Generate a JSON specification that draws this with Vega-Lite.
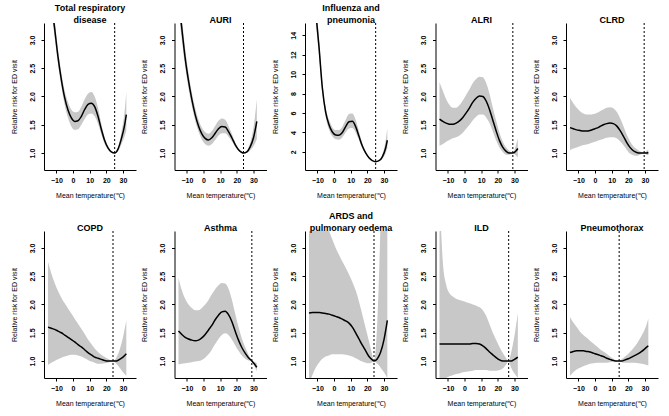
{
  "$schema": "https://vega.github.io/schema/vega-lite/v6.json",
  "padding": {"left": 10, "top": 3, "right": 5, "bottom": 5},
  "background": "white",
  "datasets": {
    "mmt": [
      {"panel": "total", "mmt": 25},
      {"panel": "auri", "mmt": 24},
      {"panel": "flu", "mmt": 25},
      {"panel": "alri", "mmt": 29},
      {"panel": "clrd", "mmt": 29.5},
      {"panel": "copd", "mmt": 24},
      {"panel": "asthma", "mmt": 29},
      {"panel": "ards", "mmt": 24},
      {"panel": "ild", "mmt": 26.5},
      {"panel": "ptx", "mmt": 14.5}
    ],
    "curves": [
      {"panel":"total","temp":-15,"rr":4.3,"lower":4.05,"upper":4.55},
      {"panel":"total","temp":-13,"rr":3.7,"lower":3.52,"upper":3.88},
      {"panel":"total","temp":-11,"rr":3.2,"lower":3.05,"upper":3.35},
      {"panel":"total","temp":-9,"rr":2.7,"lower":2.57,"upper":2.83},
      {"panel":"total","temp":-7,"rr":2.3,"lower":2.18,"upper":2.42},
      {"panel":"total","temp":-5,"rr":1.98,"lower":1.85,"upper":2.1},
      {"panel":"total","temp":-3,"rr":1.76,"lower":1.62,"upper":1.9},
      {"panel":"total","temp":-1,"rr":1.62,"lower":1.47,"upper":1.77},
      {"panel":"total","temp":1,"rr":1.56,"lower":1.41,"upper":1.72},
      {"panel":"total","temp":3,"rr":1.57,"lower":1.42,"upper":1.73},
      {"panel":"total","temp":5,"rr":1.65,"lower":1.5,"upper":1.82},
      {"panel":"total","temp":7,"rr":1.77,"lower":1.6,"upper":1.95},
      {"panel":"total","temp":9,"rr":1.86,"lower":1.68,"upper":2.05},
      {"panel":"total","temp":11,"rr":1.88,"lower":1.7,"upper":2.08},
      {"panel":"total","temp":13,"rr":1.82,"lower":1.65,"upper":2.0},
      {"panel":"total","temp":15,"rr":1.65,"lower":1.52,"upper":1.8},
      {"panel":"total","temp":17,"rr":1.42,"lower":1.33,"upper":1.52},
      {"panel":"total","temp":19,"rr":1.22,"lower":1.16,"upper":1.28},
      {"panel":"total","temp":21,"rr":1.09,"lower":1.06,"upper":1.12},
      {"panel":"total","temp":23,"rr":1.02,"lower":1.01,"upper":1.03},
      {"panel":"total","temp":25,"rr":1.0,"lower":1.0,"upper":1.0},
      {"panel":"total","temp":27,"rr":1.07,"lower":1.03,"upper":1.1},
      {"panel":"total","temp":29,"rr":1.25,"lower":1.15,"upper":1.36},
      {"panel":"total","temp":31,"rr":1.5,"lower":1.3,"upper":1.75},
      {"panel":"total","temp":32,"rr":1.68,"lower":1.4,"upper":2.08},

      {"panel":"auri","temp":-15,"rr":3.75,"lower":3.5,"upper":4.0},
      {"panel":"auri","temp":-13,"rr":3.2,"lower":3.0,"upper":3.4},
      {"panel":"auri","temp":-11,"rr":2.68,"lower":2.52,"upper":2.85},
      {"panel":"auri","temp":-9,"rr":2.28,"lower":2.14,"upper":2.42},
      {"panel":"auri","temp":-7,"rr":1.95,"lower":1.83,"upper":2.07},
      {"panel":"auri","temp":-5,"rr":1.68,"lower":1.57,"upper":1.8},
      {"panel":"auri","temp":-3,"rr":1.48,"lower":1.38,"upper":1.59},
      {"panel":"auri","temp":-1,"rr":1.34,"lower":1.24,"upper":1.45},
      {"panel":"auri","temp":1,"rr":1.26,"lower":1.16,"upper":1.37},
      {"panel":"auri","temp":3,"rr":1.23,"lower":1.13,"upper":1.34},
      {"panel":"auri","temp":5,"rr":1.27,"lower":1.16,"upper":1.39},
      {"panel":"auri","temp":7,"rr":1.35,"lower":1.23,"upper":1.48},
      {"panel":"auri","temp":9,"rr":1.43,"lower":1.31,"upper":1.57},
      {"panel":"auri","temp":11,"rr":1.47,"lower":1.35,"upper":1.61},
      {"panel":"auri","temp":13,"rr":1.46,"lower":1.35,"upper":1.59},
      {"panel":"auri","temp":15,"rr":1.38,"lower":1.29,"upper":1.48},
      {"panel":"auri","temp":17,"rr":1.27,"lower":1.21,"upper":1.34},
      {"panel":"auri","temp":19,"rr":1.15,"lower":1.11,"upper":1.19},
      {"panel":"auri","temp":21,"rr":1.06,"lower":1.04,"upper":1.08},
      {"panel":"auri","temp":23,"rr":1.01,"lower":1.0,"upper":1.02},
      {"panel":"auri","temp":24,"rr":1.0,"lower":1.0,"upper":1.0},
      {"panel":"auri","temp":26,"rr":1.02,"lower":1.0,"upper":1.04},
      {"panel":"auri","temp":28,"rr":1.11,"lower":1.05,"upper":1.18},
      {"panel":"auri","temp":30,"rr":1.27,"lower":1.12,"upper":1.45},
      {"panel":"auri","temp":32,"rr":1.56,"lower":1.25,"upper":1.95},

      {"panel":"flu","temp":-15,"rr":24,"lower":22,"upper":26},
      {"panel":"flu","temp":-13,"rr":20,"lower":18.5,"upper":21.5},
      {"panel":"flu","temp":-11,"rr":16.5,"lower":15.4,"upper":17.6},
      {"panel":"flu","temp":-9,"rr":12.8,"lower":12.0,"upper":13.6},
      {"panel":"flu","temp":-7,"rr":8.6,"lower":8.0,"upper":9.2},
      {"panel":"flu","temp":-5,"rr":6.1,"lower":5.6,"upper":6.6},
      {"panel":"flu","temp":-3,"rr":4.8,"lower":4.3,"upper":5.3},
      {"panel":"flu","temp":-1,"rr":4.05,"lower":3.6,"upper":4.55},
      {"panel":"flu","temp":1,"rr":3.75,"lower":3.3,"upper":4.25},
      {"panel":"flu","temp":3,"rr":3.72,"lower":3.25,"upper":4.25},
      {"panel":"flu","temp":5,"rr":4.0,"lower":3.5,"upper":4.6},
      {"panel":"flu","temp":7,"rr":4.6,"lower":4.0,"upper":5.3},
      {"panel":"flu","temp":9,"rr":5.1,"lower":4.4,"upper":5.9},
      {"panel":"flu","temp":11,"rr":5.15,"lower":4.45,"upper":5.95},
      {"panel":"flu","temp":13,"rr":4.6,"lower":4.0,"upper":5.3},
      {"panel":"flu","temp":15,"rr":3.6,"lower":3.2,"upper":4.1},
      {"panel":"flu","temp":17,"rr":2.6,"lower":2.35,"upper":2.9},
      {"panel":"flu","temp":19,"rr":1.9,"lower":1.75,"upper":2.05},
      {"panel":"flu","temp":21,"rr":1.4,"lower":1.33,"upper":1.48},
      {"panel":"flu","temp":23,"rr":1.1,"lower":1.07,"upper":1.13},
      {"panel":"flu","temp":25,"rr":1.0,"lower":1.0,"upper":1.0},
      {"panel":"flu","temp":27,"rr":1.1,"lower":1.05,"upper":1.15},
      {"panel":"flu","temp":29,"rr":1.5,"lower":1.3,"upper":1.7},
      {"panel":"flu","temp":31,"rr":2.4,"lower":1.9,"upper":3.2},
      {"panel":"flu","temp":32,"rr":3.2,"lower":2.4,"upper":4.4},

      {"panel":"alri","temp":-15,"rr":1.6,"lower":1.13,"upper":2.25},
      {"panel":"alri","temp":-13,"rr":1.56,"lower":1.16,"upper":2.1},
      {"panel":"alri","temp":-11,"rr":1.53,"lower":1.2,"upper":1.95},
      {"panel":"alri","temp":-9,"rr":1.51,"lower":1.23,"upper":1.85},
      {"panel":"alri","temp":-7,"rr":1.51,"lower":1.26,"upper":1.8},
      {"panel":"alri","temp":-5,"rr":1.53,"lower":1.28,"upper":1.8},
      {"panel":"alri","temp":-3,"rr":1.57,"lower":1.31,"upper":1.85},
      {"panel":"alri","temp":-1,"rr":1.63,"lower":1.36,"upper":1.93},
      {"panel":"alri","temp":1,"rr":1.71,"lower":1.43,"upper":2.03},
      {"panel":"alri","temp":3,"rr":1.8,"lower":1.5,"upper":2.13},
      {"panel":"alri","temp":5,"rr":1.9,"lower":1.58,"upper":2.24},
      {"panel":"alri","temp":7,"rr":1.97,"lower":1.64,"upper":2.31},
      {"panel":"alri","temp":9,"rr":2.01,"lower":1.68,"upper":2.35},
      {"panel":"alri","temp":11,"rr":2.0,"lower":1.68,"upper":2.34},
      {"panel":"alri","temp":13,"rr":1.92,"lower":1.63,"upper":2.24},
      {"panel":"alri","temp":15,"rr":1.77,"lower":1.53,"upper":2.05},
      {"panel":"alri","temp":17,"rr":1.58,"lower":1.38,"upper":1.8},
      {"panel":"alri","temp":19,"rr":1.39,"lower":1.22,"upper":1.57},
      {"panel":"alri","temp":21,"rr":1.22,"lower":1.1,"upper":1.36},
      {"panel":"alri","temp":23,"rr":1.1,"lower":1.02,"upper":1.2},
      {"panel":"alri","temp":25,"rr":1.03,"lower":0.97,"upper":1.1},
      {"panel":"alri","temp":27,"rr":1.0,"lower":0.97,"upper":1.04},
      {"panel":"alri","temp":29,"rr":1.0,"lower":1.0,"upper":1.0},
      {"panel":"alri","temp":31,"rr":1.04,"lower":0.95,"upper":1.15},
      {"panel":"alri","temp":32,"rr":1.08,"lower":0.92,"upper":1.26},

      {"panel":"clrd","temp":-15,"rr":1.45,"lower":1.05,"upper":1.98},
      {"panel":"clrd","temp":-13,"rr":1.43,"lower":1.08,"upper":1.88},
      {"panel":"clrd","temp":-11,"rr":1.41,"lower":1.1,"upper":1.8},
      {"panel":"clrd","temp":-9,"rr":1.4,"lower":1.12,"upper":1.74},
      {"panel":"clrd","temp":-7,"rr":1.39,"lower":1.14,"upper":1.7},
      {"panel":"clrd","temp":-5,"rr":1.39,"lower":1.15,"upper":1.68},
      {"panel":"clrd","temp":-3,"rr":1.4,"lower":1.17,"upper":1.68},
      {"panel":"clrd","temp":-1,"rr":1.42,"lower":1.19,"upper":1.69},
      {"panel":"clrd","temp":1,"rr":1.44,"lower":1.21,"upper":1.71},
      {"panel":"clrd","temp":3,"rr":1.47,"lower":1.23,"upper":1.74},
      {"panel":"clrd","temp":5,"rr":1.5,"lower":1.25,"upper":1.77},
      {"panel":"clrd","temp":7,"rr":1.52,"lower":1.27,"upper":1.8},
      {"panel":"clrd","temp":9,"rr":1.53,"lower":1.28,"upper":1.81},
      {"panel":"clrd","temp":11,"rr":1.52,"lower":1.28,"upper":1.79},
      {"panel":"clrd","temp":13,"rr":1.48,"lower":1.26,"upper":1.73},
      {"panel":"clrd","temp":15,"rr":1.4,"lower":1.21,"upper":1.62},
      {"panel":"clrd","temp":17,"rr":1.3,"lower":1.14,"upper":1.48},
      {"panel":"clrd","temp":19,"rr":1.19,"lower":1.06,"upper":1.33},
      {"panel":"clrd","temp":21,"rr":1.1,"lower":0.99,"upper":1.21},
      {"panel":"clrd","temp":23,"rr":1.04,"lower":0.96,"upper":1.12},
      {"panel":"clrd","temp":25,"rr":1.01,"lower":0.95,"upper":1.07},
      {"panel":"clrd","temp":27,"rr":1.0,"lower":0.97,"upper":1.03},
      {"panel":"clrd","temp":29.5,"rr":1.0,"lower":1.0,"upper":1.0},
      {"panel":"clrd","temp":31,"rr":1.0,"lower":0.97,"upper":1.04},
      {"panel":"clrd","temp":32,"rr":1.01,"lower":0.96,"upper":1.06},

      {"panel":"copd","temp":-15,"rr":1.6,"lower":0.93,"upper":2.75},
      {"panel":"copd","temp":-13,"rr":1.58,"lower":0.97,"upper":2.55},
      {"panel":"copd","temp":-11,"rr":1.56,"lower":1.0,"upper":2.38},
      {"panel":"copd","temp":-9,"rr":1.53,"lower":1.03,"upper":2.24},
      {"panel":"copd","temp":-7,"rr":1.5,"lower":1.06,"upper":2.12},
      {"panel":"copd","temp":-5,"rr":1.46,"lower":1.08,"upper":2.02},
      {"panel":"copd","temp":-3,"rr":1.42,"lower":1.1,"upper":1.93},
      {"panel":"copd","temp":-1,"rr":1.38,"lower":1.11,"upper":1.84},
      {"panel":"copd","temp":1,"rr":1.34,"lower":1.11,"upper":1.75},
      {"panel":"copd","temp":3,"rr":1.29,"lower":1.1,"upper":1.66},
      {"panel":"copd","temp":5,"rr":1.25,"lower":1.08,"upper":1.57},
      {"panel":"copd","temp":7,"rr":1.2,"lower":1.05,"upper":1.48},
      {"panel":"copd","temp":9,"rr":1.15,"lower":1.02,"upper":1.38},
      {"panel":"copd","temp":11,"rr":1.11,"lower":0.99,"upper":1.3},
      {"panel":"copd","temp":13,"rr":1.07,"lower":0.97,"upper":1.22},
      {"panel":"copd","temp":15,"rr":1.05,"lower":0.95,"upper":1.16},
      {"panel":"copd","temp":17,"rr":1.03,"lower":0.95,"upper":1.11},
      {"panel":"copd","temp":19,"rr":1.01,"lower":0.96,"upper":1.07},
      {"panel":"copd","temp":21,"rr":1.0,"lower":0.97,"upper":1.04},
      {"panel":"copd","temp":24,"rr":1.0,"lower":1.0,"upper":1.0},
      {"panel":"copd","temp":26,"rr":1.0,"lower":0.95,"upper":1.06},
      {"panel":"copd","temp":28,"rr":1.03,"lower":0.88,"upper":1.2},
      {"panel":"copd","temp":30,"rr":1.07,"lower":0.8,"upper":1.42},
      {"panel":"copd","temp":32,"rr":1.13,"lower":0.74,"upper":1.72},

      {"panel":"asthma","temp":-15,"rr":1.53,"lower":0.94,"upper":2.47},
      {"panel":"asthma","temp":-13,"rr":1.47,"lower":0.95,"upper":2.25},
      {"panel":"asthma","temp":-11,"rr":1.42,"lower":0.96,"upper":2.1},
      {"panel":"asthma","temp":-9,"rr":1.39,"lower":0.97,"upper":2.0},
      {"panel":"asthma","temp":-7,"rr":1.37,"lower":0.98,"upper":1.94},
      {"panel":"asthma","temp":-5,"rr":1.36,"lower":0.99,"upper":1.9},
      {"panel":"asthma","temp":-3,"rr":1.37,"lower":1.0,"upper":1.9},
      {"panel":"asthma","temp":-1,"rr":1.41,"lower":1.02,"upper":1.94},
      {"panel":"asthma","temp":1,"rr":1.47,"lower":1.06,"upper":2.0},
      {"panel":"asthma","temp":3,"rr":1.55,"lower":1.12,"upper":2.08},
      {"panel":"asthma","temp":5,"rr":1.63,"lower":1.2,"upper":2.18},
      {"panel":"asthma","temp":7,"rr":1.73,"lower":1.3,"upper":2.27},
      {"panel":"asthma","temp":9,"rr":1.81,"lower":1.39,"upper":2.34},
      {"panel":"asthma","temp":11,"rr":1.87,"lower":1.46,"upper":2.38},
      {"panel":"asthma","temp":13,"rr":1.88,"lower":1.49,"upper":2.37},
      {"panel":"asthma","temp":15,"rr":1.82,"lower":1.46,"upper":2.28},
      {"panel":"asthma","temp":17,"rr":1.7,"lower":1.38,"upper":2.09},
      {"panel":"asthma","temp":19,"rr":1.53,"lower":1.28,"upper":1.84},
      {"panel":"asthma","temp":21,"rr":1.37,"lower":1.18,"upper":1.6},
      {"panel":"asthma","temp":23,"rr":1.24,"lower":1.1,"upper":1.4},
      {"panel":"asthma","temp":25,"rr":1.14,"lower":1.04,"upper":1.25},
      {"panel":"asthma","temp":27,"rr":1.06,"lower":1.01,"upper":1.11},
      {"panel":"asthma","temp":29,"rr":1.0,"lower":1.0,"upper":1.0},
      {"panel":"asthma","temp":31,"rr":0.93,"lower":0.88,"upper":0.98},
      {"panel":"asthma","temp":32,"rr":0.89,"lower":0.82,"upper":0.96},

      {"panel":"ards","temp":-15,"rr":1.85,"lower":0.6,"upper":4.5},
      {"panel":"ards","temp":-13,"rr":1.86,"lower":0.75,"upper":4.3},
      {"panel":"ards","temp":-11,"rr":1.86,"lower":0.88,"upper":4.0},
      {"panel":"ards","temp":-9,"rr":1.86,"lower":0.97,"upper":3.8},
      {"panel":"ards","temp":-7,"rr":1.85,"lower":1.04,"upper":3.6},
      {"panel":"ards","temp":-5,"rr":1.84,"lower":1.08,"upper":3.45},
      {"panel":"ards","temp":-3,"rr":1.83,"lower":1.1,"upper":3.3},
      {"panel":"ards","temp":-1,"rr":1.81,"lower":1.12,"upper":3.15},
      {"panel":"ards","temp":1,"rr":1.79,"lower":1.12,"upper":3.0},
      {"panel":"ards","temp":3,"rr":1.77,"lower":1.12,"upper":2.88},
      {"panel":"ards","temp":5,"rr":1.74,"lower":1.12,"upper":2.76},
      {"panel":"ards","temp":7,"rr":1.71,"lower":1.11,"upper":2.65},
      {"panel":"ards","temp":9,"rr":1.67,"lower":1.1,"upper":2.53},
      {"panel":"ards","temp":11,"rr":1.6,"lower":1.08,"upper":2.4},
      {"panel":"ards","temp":13,"rr":1.5,"lower":1.05,"upper":2.25},
      {"panel":"ards","temp":15,"rr":1.39,"lower":1.02,"upper":2.05},
      {"panel":"ards","temp":17,"rr":1.28,"lower":0.99,"upper":1.82},
      {"panel":"ards","temp":19,"rr":1.18,"lower":0.97,"upper":1.58},
      {"panel":"ards","temp":21,"rr":1.08,"lower":0.96,"upper":1.35},
      {"panel":"ards","temp":23,"rr":1.02,"lower":0.98,"upper":1.1},
      {"panel":"ards","temp":24,"rr":1.0,"lower":1.0,"upper":1.0},
      {"panel":"ards","temp":25,"rr":1.01,"lower":0.98,"upper":1.2},
      {"panel":"ards","temp":26,"rr":1.04,"lower":0.95,"upper":1.7},
      {"panel":"ards","temp":27,"rr":1.09,"lower":0.92,"upper":2.5},
      {"panel":"ards","temp":28,"rr":1.16,"lower":0.88,"upper":3.5},
      {"panel":"ards","temp":30,"rr":1.38,"lower":0.8,"upper":5.0},
      {"panel":"ards","temp":32,"rr":1.72,"lower":0.7,"upper":7.0},

      {"panel":"ild","temp":-15,"rr":1.3,"lower":0.6,"upper":4.0},
      {"panel":"ild","temp":-14,"rr":1.3,"lower":0.63,"upper":3.3},
      {"panel":"ild","temp":-13,"rr":1.3,"lower":0.66,"upper":2.75},
      {"panel":"ild","temp":-11,"rr":1.3,"lower":0.7,"upper":2.35},
      {"panel":"ild","temp":-9,"rr":1.3,"lower":0.73,"upper":2.2},
      {"panel":"ild","temp":-7,"rr":1.3,"lower":0.75,"upper":2.14},
      {"panel":"ild","temp":-5,"rr":1.3,"lower":0.77,"upper":2.1},
      {"panel":"ild","temp":-3,"rr":1.3,"lower":0.78,"upper":2.08},
      {"panel":"ild","temp":-1,"rr":1.3,"lower":0.8,"upper":2.06},
      {"panel":"ild","temp":1,"rr":1.3,"lower":0.81,"upper":2.04},
      {"panel":"ild","temp":3,"rr":1.3,"lower":0.82,"upper":2.02},
      {"panel":"ild","temp":5,"rr":1.31,"lower":0.83,"upper":2.0},
      {"panel":"ild","temp":7,"rr":1.31,"lower":0.84,"upper":1.98},
      {"panel":"ild","temp":9,"rr":1.3,"lower":0.84,"upper":1.95},
      {"panel":"ild","temp":11,"rr":1.27,"lower":0.84,"upper":1.9},
      {"panel":"ild","temp":13,"rr":1.22,"lower":0.84,"upper":1.8},
      {"panel":"ild","temp":15,"rr":1.16,"lower":0.83,"upper":1.65},
      {"panel":"ild","temp":17,"rr":1.11,"lower":0.83,"upper":1.5},
      {"panel":"ild","temp":19,"rr":1.06,"lower":0.83,"upper":1.37},
      {"panel":"ild","temp":21,"rr":1.02,"lower":0.84,"upper":1.25},
      {"panel":"ild","temp":23,"rr":1.0,"lower":0.87,"upper":1.14},
      {"panel":"ild","temp":25,"rr":1.0,"lower":0.94,"upper":1.05},
      {"panel":"ild","temp":26.5,"rr":1.0,"lower":1.0,"upper":1.0},
      {"panel":"ild","temp":28,"rr":1.0,"lower":0.88,"upper":1.15},
      {"panel":"ild","temp":30,"rr":1.03,"lower":0.78,"upper":1.45},
      {"panel":"ild","temp":32,"rr":1.07,"lower":0.7,"upper":1.85},

      {"panel":"ptx","temp":-15,"rr":1.15,"lower":0.74,"upper":1.78},
      {"panel":"ptx","temp":-13,"rr":1.17,"lower":0.8,"upper":1.68},
      {"panel":"ptx","temp":-11,"rr":1.18,"lower":0.85,"upper":1.6},
      {"panel":"ptx","temp":-9,"rr":1.18,"lower":0.88,"upper":1.52},
      {"panel":"ptx","temp":-7,"rr":1.18,"lower":0.91,"upper":1.46},
      {"panel":"ptx","temp":-5,"rr":1.17,"lower":0.93,"upper":1.41},
      {"panel":"ptx","temp":-3,"rr":1.16,"lower":0.95,"upper":1.36},
      {"panel":"ptx","temp":-1,"rr":1.14,"lower":0.96,"upper":1.31},
      {"panel":"ptx","temp":1,"rr":1.12,"lower":0.97,"upper":1.26},
      {"panel":"ptx","temp":3,"rr":1.1,"lower":0.97,"upper":1.21},
      {"panel":"ptx","temp":5,"rr":1.08,"lower":0.97,"upper":1.17},
      {"panel":"ptx","temp":7,"rr":1.05,"lower":0.97,"upper":1.13},
      {"panel":"ptx","temp":9,"rr":1.03,"lower":0.98,"upper":1.08},
      {"panel":"ptx","temp":11,"rr":1.01,"lower":0.99,"upper":1.04},
      {"panel":"ptx","temp":13,"rr":1.0,"lower":0.99,"upper":1.01},
      {"panel":"ptx","temp":14.5,"rr":1.0,"lower":1.0,"upper":1.0},
      {"panel":"ptx","temp":16,"rr":1.0,"lower":0.98,"upper":1.03},
      {"panel":"ptx","temp":18,"rr":1.02,"lower":0.97,"upper":1.08},
      {"panel":"ptx","temp":20,"rr":1.04,"lower":0.97,"upper":1.13},
      {"panel":"ptx","temp":22,"rr":1.07,"lower":0.97,"upper":1.19},
      {"panel":"ptx","temp":24,"rr":1.1,"lower":0.97,"upper":1.26},
      {"panel":"ptx","temp":26,"rr":1.13,"lower":0.96,"upper":1.35},
      {"panel":"ptx","temp":28,"rr":1.17,"lower":0.95,"upper":1.45},
      {"panel":"ptx","temp":30,"rr":1.22,"lower":0.94,"upper":1.57},
      {"panel":"ptx","temp":32,"rr":1.27,"lower":0.92,"upper":1.75}
    ]
  },
  "columns": 5,
  "bounds": "flush",
  "spacing": {"row": 61, "column": 38.5},
  "concat": [
    {"title": {"text": ["Total respiratory", "disease"]}, "width": 92, "height": 147, "layer": [
      {"data": {"name": "curves"}, "transform": [{"filter": "datum.panel === 'total'"}], "mark": {"type": "area", "clip": true, "color": "#c8c8c8", "interpolate": "monotone"},
       "encoding": {"x": {"field": "temp", "type": "quantitative", "scale": {"domain": [-17.4, 37.8], "nice": false}, "axis": {"values": [-10, 0, 10, 20, 30], "tickCount": 5, "title": "Mean temperature(℃)"}},
                    "y": {"field": "lower", "type": "quantitative", "scale": {"domain": [0.7, 3.3], "nice": false, "zero": false}, "axis": {"values": [1, 1.5, 2, 2.5, 3], "tickCount": 5, "format": ".1f", "title": "Relative risk for ED visit"}},
                    "y2": {"field": "upper"}}},
      {"mark": {"type": "rule", "color": "#333333", "strokeWidth": 1.3}, "encoding": {"y": {"datum": 1}}},
      {"data": {"name": "mmt"}, "transform": [{"filter": "datum.panel === 'total'"}], "mark": {"type": "rule", "color": "black", "strokeWidth": 1, "strokeDash": [2, 2]}, "encoding": {"x": {"field": "mmt", "type": "quantitative", "axis": {"values": [-10, 0, 10, 20, 30], "tickCount": 5, "title": "Mean temperature(℃)"}}}},
      {"data": {"name": "curves"}, "transform": [{"filter": "datum.panel === 'total'"}], "mark": {"type": "line", "clip": true, "color": "black", "strokeWidth": 1.5, "interpolate": "monotone"},
       "encoding": {"x": {"field": "temp", "type": "quantitative", "axis": {"values": [-10, 0, 10, 20, 30], "tickCount": 5, "title": "Mean temperature(℃)"}}, "y": {"field": "rr", "type": "quantitative", "axis": {"values": [1, 1.5, 2, 2.5, 3], "tickCount": 5, "format": ".1f", "title": "Relative risk for ED visit"}}}}
    ]},
    {"title": {"text": "AURI"}, "width": 92, "height": 147, "layer": [
      {"data": {"name": "curves"}, "transform": [{"filter": "datum.panel === 'auri'"}], "mark": {"type": "area", "clip": true, "color": "#c8c8c8", "interpolate": "monotone"},
       "encoding": {"x": {"field": "temp", "type": "quantitative", "scale": {"domain": [-17.4, 37.8], "nice": false}, "axis": {"values": [-10, 0, 10, 20, 30], "tickCount": 5, "title": "Mean temperature(℃)"}},
                    "y": {"field": "lower", "type": "quantitative", "scale": {"domain": [0.7, 3.3], "nice": false, "zero": false}, "axis": {"values": [1, 1.5, 2, 2.5, 3], "tickCount": 5, "format": ".1f", "title": "Relative risk for ED visit"}},
                    "y2": {"field": "upper"}}},
      {"mark": {"type": "rule", "color": "#333333", "strokeWidth": 1.3}, "encoding": {"y": {"datum": 1}}},
      {"data": {"name": "mmt"}, "transform": [{"filter": "datum.panel === 'auri'"}], "mark": {"type": "rule", "color": "black", "strokeWidth": 1, "strokeDash": [2, 2]}, "encoding": {"x": {"field": "mmt", "type": "quantitative", "axis": {"values": [-10, 0, 10, 20, 30], "tickCount": 5, "title": "Mean temperature(℃)"}}}},
      {"data": {"name": "curves"}, "transform": [{"filter": "datum.panel === 'auri'"}], "mark": {"type": "line", "clip": true, "color": "black", "strokeWidth": 1.5, "interpolate": "monotone"},
       "encoding": {"x": {"field": "temp", "type": "quantitative", "axis": {"values": [-10, 0, 10, 20, 30], "tickCount": 5, "title": "Mean temperature(℃)"}}, "y": {"field": "rr", "type": "quantitative", "axis": {"values": [1, 1.5, 2, 2.5, 3], "tickCount": 5, "format": ".1f", "title": "Relative risk for ED visit"}}}}
    ]},
    {"title": {"text": ["Influenza and", "pneumonia"]}, "width": 92, "height": 147, "layer": [
      {"data": {"name": "curves"}, "transform": [{"filter": "datum.panel === 'flu'"}], "mark": {"type": "area", "clip": true, "color": "#c8c8c8", "interpolate": "monotone"},
       "encoding": {"x": {"field": "temp", "type": "quantitative", "scale": {"domain": [-17.4, 37.8], "nice": false}, "axis": {"values": [-10, 0, 10, 20, 30], "tickCount": 5, "title": "Mean temperature(℃)"}},
                    "y": {"field": "lower", "type": "quantitative", "scale": {"domain": [0.14, 15.26], "nice": false, "zero": false}, "axis": {"values": [2, 4, 6, 8, 10, 12, 14], "tickCount": 7, "format": "d", "title": "Relative risk for ED visit"}},
                    "y2": {"field": "upper"}}},
      {"mark": {"type": "rule", "color": "#333333", "strokeWidth": 1.3}, "encoding": {"y": {"datum": 1}}},
      {"data": {"name": "mmt"}, "transform": [{"filter": "datum.panel === 'flu'"}], "mark": {"type": "rule", "color": "black", "strokeWidth": 1, "strokeDash": [2, 2]}, "encoding": {"x": {"field": "mmt", "type": "quantitative", "axis": {"values": [-10, 0, 10, 20, 30], "tickCount": 5, "title": "Mean temperature(℃)"}}}},
      {"data": {"name": "curves"}, "transform": [{"filter": "datum.panel === 'flu'"}], "mark": {"type": "line", "clip": true, "color": "black", "strokeWidth": 1.5, "interpolate": "monotone"},
       "encoding": {"x": {"field": "temp", "type": "quantitative", "axis": {"values": [-10, 0, 10, 20, 30], "tickCount": 5, "title": "Mean temperature(℃)"}}, "y": {"field": "rr", "type": "quantitative", "axis": {"values": [2, 4, 6, 8, 10, 12, 14], "tickCount": 7, "format": "d", "title": "Relative risk for ED visit"}}}}
    ]},
    {"title": {"text": "ALRI"}, "width": 92, "height": 147, "layer": [
      {"data": {"name": "curves"}, "transform": [{"filter": "datum.panel === 'alri'"}], "mark": {"type": "area", "clip": true, "color": "#c8c8c8", "interpolate": "monotone"},
       "encoding": {"x": {"field": "temp", "type": "quantitative", "scale": {"domain": [-17.4, 37.8], "nice": false}, "axis": {"values": [-10, 0, 10, 20, 30], "tickCount": 5, "title": "Mean temperature(℃)"}},
                    "y": {"field": "lower", "type": "quantitative", "scale": {"domain": [0.7, 3.3], "nice": false, "zero": false}, "axis": {"values": [1, 1.5, 2, 2.5, 3], "tickCount": 5, "format": ".1f", "title": "Relative risk for ED visit"}},
                    "y2": {"field": "upper"}}},
      {"mark": {"type": "rule", "color": "#333333", "strokeWidth": 1.3}, "encoding": {"y": {"datum": 1}}},
      {"data": {"name": "mmt"}, "transform": [{"filter": "datum.panel === 'alri'"}], "mark": {"type": "rule", "color": "black", "strokeWidth": 1, "strokeDash": [2, 2]}, "encoding": {"x": {"field": "mmt", "type": "quantitative", "axis": {"values": [-10, 0, 10, 20, 30], "tickCount": 5, "title": "Mean temperature(℃)"}}}},
      {"data": {"name": "curves"}, "transform": [{"filter": "datum.panel === 'alri'"}], "mark": {"type": "line", "clip": true, "color": "black", "strokeWidth": 1.5, "interpolate": "monotone"},
       "encoding": {"x": {"field": "temp", "type": "quantitative", "axis": {"values": [-10, 0, 10, 20, 30], "tickCount": 5, "title": "Mean temperature(℃)"}}, "y": {"field": "rr", "type": "quantitative", "axis": {"values": [1, 1.5, 2, 2.5, 3], "tickCount": 5, "format": ".1f", "title": "Relative risk for ED visit"}}}}
    ]},
    {"title": {"text": "CLRD"}, "width": 92, "height": 147, "layer": [
      {"data": {"name": "curves"}, "transform": [{"filter": "datum.panel === 'clrd'"}], "mark": {"type": "area", "clip": true, "color": "#c8c8c8", "interpolate": "monotone"},
       "encoding": {"x": {"field": "temp", "type": "quantitative", "scale": {"domain": [-17.4, 37.8], "nice": false}, "axis": {"values": [-10, 0, 10, 20, 30], "tickCount": 5, "title": "Mean temperature(℃)"}},
                    "y": {"field": "lower", "type": "quantitative", "scale": {"domain": [0.7, 3.3], "nice": false, "zero": false}, "axis": {"values": [1, 1.5, 2, 2.5, 3], "tickCount": 5, "format": ".1f", "title": "Relative risk for ED visit"}},
                    "y2": {"field": "upper"}}},
      {"mark": {"type": "rule", "color": "#333333", "strokeWidth": 1.3}, "encoding": {"y": {"datum": 1}}},
      {"data": {"name": "mmt"}, "transform": [{"filter": "datum.panel === 'clrd'"}], "mark": {"type": "rule", "color": "black", "strokeWidth": 1, "strokeDash": [2, 2]}, "encoding": {"x": {"field": "mmt", "type": "quantitative", "axis": {"values": [-10, 0, 10, 20, 30], "tickCount": 5, "title": "Mean temperature(℃)"}}}},
      {"data": {"name": "curves"}, "transform": [{"filter": "datum.panel === 'clrd'"}], "mark": {"type": "line", "clip": true, "color": "black", "strokeWidth": 1.5, "interpolate": "monotone"},
       "encoding": {"x": {"field": "temp", "type": "quantitative", "axis": {"values": [-10, 0, 10, 20, 30], "tickCount": 5, "title": "Mean temperature(℃)"}}, "y": {"field": "rr", "type": "quantitative", "axis": {"values": [1, 1.5, 2, 2.5, 3], "tickCount": 5, "format": ".1f", "title": "Relative risk for ED visit"}}}}
    ]},
    {"title": {"text": "COPD"}, "width": 92, "height": 147, "layer": [
      {"data": {"name": "curves"}, "transform": [{"filter": "datum.panel === 'copd'"}], "mark": {"type": "area", "clip": true, "color": "#c8c8c8", "interpolate": "monotone"},
       "encoding": {"x": {"field": "temp", "type": "quantitative", "scale": {"domain": [-17.4, 37.8], "nice": false}, "axis": {"values": [-10, 0, 10, 20, 30], "tickCount": 5, "title": "Mean temperature(℃)"}},
                    "y": {"field": "lower", "type": "quantitative", "scale": {"domain": [0.7, 3.3], "nice": false, "zero": false}, "axis": {"values": [1, 1.5, 2, 2.5, 3], "tickCount": 5, "format": ".1f", "title": "Relative risk for ED visit"}},
                    "y2": {"field": "upper"}}},
      {"mark": {"type": "rule", "color": "#333333", "strokeWidth": 1.3}, "encoding": {"y": {"datum": 1}}},
      {"data": {"name": "mmt"}, "transform": [{"filter": "datum.panel === 'copd'"}], "mark": {"type": "rule", "color": "black", "strokeWidth": 1, "strokeDash": [2, 2]}, "encoding": {"x": {"field": "mmt", "type": "quantitative", "axis": {"values": [-10, 0, 10, 20, 30], "tickCount": 5, "title": "Mean temperature(℃)"}}}},
      {"data": {"name": "curves"}, "transform": [{"filter": "datum.panel === 'copd'"}], "mark": {"type": "line", "clip": true, "color": "black", "strokeWidth": 1.5, "interpolate": "monotone"},
       "encoding": {"x": {"field": "temp", "type": "quantitative", "axis": {"values": [-10, 0, 10, 20, 30], "tickCount": 5, "title": "Mean temperature(℃)"}}, "y": {"field": "rr", "type": "quantitative", "axis": {"values": [1, 1.5, 2, 2.5, 3], "tickCount": 5, "format": ".1f", "title": "Relative risk for ED visit"}}}}
    ]},
    {"title": {"text": "Asthma"}, "width": 92, "height": 147, "layer": [
      {"data": {"name": "curves"}, "transform": [{"filter": "datum.panel === 'asthma'"}], "mark": {"type": "area", "clip": true, "color": "#c8c8c8", "interpolate": "monotone"},
       "encoding": {"x": {"field": "temp", "type": "quantitative", "scale": {"domain": [-17.4, 37.8], "nice": false}, "axis": {"values": [-10, 0, 10, 20, 30], "tickCount": 5, "title": "Mean temperature(℃)"}},
                    "y": {"field": "lower", "type": "quantitative", "scale": {"domain": [0.7, 3.3], "nice": false, "zero": false}, "axis": {"values": [1, 1.5, 2, 2.5, 3], "tickCount": 5, "format": ".1f", "title": "Relative risk for ED visit"}},
                    "y2": {"field": "upper"}}},
      {"mark": {"type": "rule", "color": "#333333", "strokeWidth": 1.3}, "encoding": {"y": {"datum": 1}}},
      {"data": {"name": "mmt"}, "transform": [{"filter": "datum.panel === 'asthma'"}], "mark": {"type": "rule", "color": "black", "strokeWidth": 1, "strokeDash": [2, 2]}, "encoding": {"x": {"field": "mmt", "type": "quantitative", "axis": {"values": [-10, 0, 10, 20, 30], "tickCount": 5, "title": "Mean temperature(℃)"}}}},
      {"data": {"name": "curves"}, "transform": [{"filter": "datum.panel === 'asthma'"}], "mark": {"type": "line", "clip": true, "color": "black", "strokeWidth": 1.5, "interpolate": "monotone"},
       "encoding": {"x": {"field": "temp", "type": "quantitative", "axis": {"values": [-10, 0, 10, 20, 30], "tickCount": 5, "title": "Mean temperature(℃)"}}, "y": {"field": "rr", "type": "quantitative", "axis": {"values": [1, 1.5, 2, 2.5, 3], "tickCount": 5, "format": ".1f", "title": "Relative risk for ED visit"}}}}
    ]},
    {"title": {"text": ["ARDS and", "pulmonary oedema"]}, "width": 92, "height": 147, "layer": [
      {"data": {"name": "curves"}, "transform": [{"filter": "datum.panel === 'ards'"}], "mark": {"type": "area", "clip": true, "color": "#c8c8c8", "interpolate": "monotone"},
       "encoding": {"x": {"field": "temp", "type": "quantitative", "scale": {"domain": [-17.4, 37.8], "nice": false}, "axis": {"values": [-10, 0, 10, 20, 30], "tickCount": 5, "title": "Mean temperature(℃)"}},
                    "y": {"field": "lower", "type": "quantitative", "scale": {"domain": [0.7, 3.3], "nice": false, "zero": false}, "axis": {"values": [1, 1.5, 2, 2.5, 3], "tickCount": 5, "format": ".1f", "title": "Relative risk for ED visit"}},
                    "y2": {"field": "upper"}}},
      {"mark": {"type": "rule", "color": "#333333", "strokeWidth": 1.3}, "encoding": {"y": {"datum": 1}}},
      {"data": {"name": "mmt"}, "transform": [{"filter": "datum.panel === 'ards'"}], "mark": {"type": "rule", "color": "black", "strokeWidth": 1, "strokeDash": [2, 2]}, "encoding": {"x": {"field": "mmt", "type": "quantitative", "axis": {"values": [-10, 0, 10, 20, 30], "tickCount": 5, "title": "Mean temperature(℃)"}}}},
      {"data": {"name": "curves"}, "transform": [{"filter": "datum.panel === 'ards'"}], "mark": {"type": "line", "clip": true, "color": "black", "strokeWidth": 1.5, "interpolate": "monotone"},
       "encoding": {"x": {"field": "temp", "type": "quantitative", "axis": {"values": [-10, 0, 10, 20, 30], "tickCount": 5, "title": "Mean temperature(℃)"}}, "y": {"field": "rr", "type": "quantitative", "axis": {"values": [1, 1.5, 2, 2.5, 3], "tickCount": 5, "format": ".1f", "title": "Relative risk for ED visit"}}}}
    ]},
    {"title": {"text": "ILD"}, "width": 92, "height": 147, "layer": [
      {"data": {"name": "curves"}, "transform": [{"filter": "datum.panel === 'ild'"}], "mark": {"type": "area", "clip": true, "color": "#c8c8c8", "interpolate": "monotone"},
       "encoding": {"x": {"field": "temp", "type": "quantitative", "scale": {"domain": [-17.4, 37.8], "nice": false}, "axis": {"values": [-10, 0, 10, 20, 30], "tickCount": 5, "title": "Mean temperature(℃)"}},
                    "y": {"field": "lower", "type": "quantitative", "scale": {"domain": [0.7, 3.3], "nice": false, "zero": false}, "axis": {"values": [1, 1.5, 2, 2.5, 3], "tickCount": 5, "format": ".1f", "title": "Relative risk for ED visit"}},
                    "y2": {"field": "upper"}}},
      {"mark": {"type": "rule", "color": "#333333", "strokeWidth": 1.3}, "encoding": {"y": {"datum": 1}}},
      {"data": {"name": "mmt"}, "transform": [{"filter": "datum.panel === 'ild'"}], "mark": {"type": "rule", "color": "black", "strokeWidth": 1, "strokeDash": [2, 2]}, "encoding": {"x": {"field": "mmt", "type": "quantitative", "axis": {"values": [-10, 0, 10, 20, 30], "tickCount": 5, "title": "Mean temperature(℃)"}}}},
      {"data": {"name": "curves"}, "transform": [{"filter": "datum.panel === 'ild'"}], "mark": {"type": "line", "clip": true, "color": "black", "strokeWidth": 1.5, "interpolate": "monotone"},
       "encoding": {"x": {"field": "temp", "type": "quantitative", "axis": {"values": [-10, 0, 10, 20, 30], "tickCount": 5, "title": "Mean temperature(℃)"}}, "y": {"field": "rr", "type": "quantitative", "axis": {"values": [1, 1.5, 2, 2.5, 3], "tickCount": 5, "format": ".1f", "title": "Relative risk for ED visit"}}}}
    ]},
    {"title": {"text": "Pneumothorax"}, "width": 92, "height": 147, "layer": [
      {"data": {"name": "curves"}, "transform": [{"filter": "datum.panel === 'ptx'"}], "mark": {"type": "area", "clip": true, "color": "#c8c8c8", "interpolate": "monotone"},
       "encoding": {"x": {"field": "temp", "type": "quantitative", "scale": {"domain": [-17.4, 37.8], "nice": false}, "axis": {"values": [-10, 0, 10, 20, 30], "tickCount": 5, "title": "Mean temperature(℃)"}},
                    "y": {"field": "lower", "type": "quantitative", "scale": {"domain": [0.7, 3.3], "nice": false, "zero": false}, "axis": {"values": [1, 1.5, 2, 2.5, 3], "tickCount": 5, "format": ".1f", "title": "Relative risk for ED visit"}},
                    "y2": {"field": "upper"}}},
      {"mark": {"type": "rule", "color": "#333333", "strokeWidth": 1.3}, "encoding": {"y": {"datum": 1}}},
      {"data": {"name": "mmt"}, "transform": [{"filter": "datum.panel === 'ptx'"}], "mark": {"type": "rule", "color": "black", "strokeWidth": 1, "strokeDash": [2, 2]}, "encoding": {"x": {"field": "mmt", "type": "quantitative", "axis": {"values": [-10, 0, 10, 20, 30], "tickCount": 5, "title": "Mean temperature(℃)"}}}},
      {"data": {"name": "curves"}, "transform": [{"filter": "datum.panel === 'ptx'"}], "mark": {"type": "line", "clip": true, "color": "black", "strokeWidth": 1.5, "interpolate": "monotone"},
       "encoding": {"x": {"field": "temp", "type": "quantitative", "axis": {"values": [-10, 0, 10, 20, 30], "tickCount": 5, "title": "Mean temperature(℃)"}}, "y": {"field": "rr", "type": "quantitative", "axis": {"values": [1, 1.5, 2, 2.5, 3], "tickCount": 5, "format": ".1f", "title": "Relative risk for ED visit"}}}}
    ]}
  ],
  "config": {
    "view": {"stroke": null},
    "font": "Liberation Sans",
    "title": {"fontSize": 9, "fontWeight": "bold", "anchor": "middle", "offset": -2, "lineHeight": 12, "baseline": "alphabetic", "color": "black"},
    "axis": {"grid": false, "domainColor": "black", "tickColor": "black", "labelColor": "black", "titleColor": "black", "labelFontSize": 7, "titleFontSize": 7, "titleFontWeight": "normal", "labelFontWeight": "bold", "tickSize": 3, "labelFlush": false, "labelOverlap": false},
    "axisX": {"labelPadding": 3, "titlePadding": 8},
    "axisY": {"labelAngle": 270, "labelAlign": "center", "labelBaseline": "bottom", "labelPadding": 6, "titlePadding": 11}
  }
}
